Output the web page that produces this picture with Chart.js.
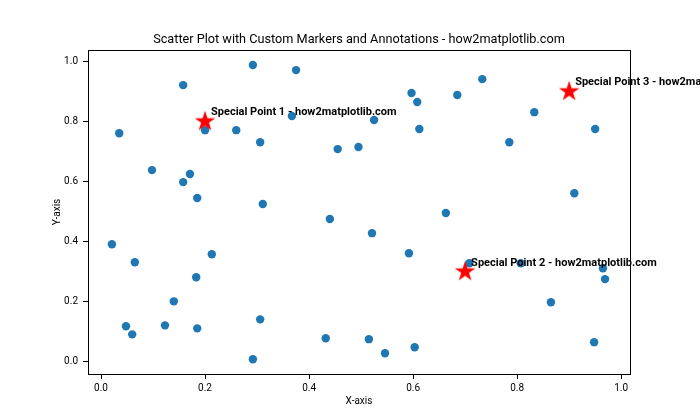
<!DOCTYPE html>
<html>
<head>
<meta charset="utf-8">
<script src="https://cdn.jsdelivr.net/npm/chart.js@4.4.0/dist/chart.umd.min.js"></script>
<style>
  html, body { margin: 0; padding: 0; background: #fff; }
  #wrap { width: 700px; height: 420px; }
</style>
</head>
<body>
<div id="wrap"><canvas id="scatterChart" width="700" height="420"></canvas></div>
<script>
// random scatter points
const xValues = [0.292, 0.375, 0.158, 0.367, 0.035, 0.200, 0.260, 0.306, 0.455, 0.495,
                 0.098, 0.171, 0.158, 0.185, 0.311, 0.733, 0.597, 0.608, 0.685, 0.833,
                 0.525, 0.612, 0.785, 0.950, 0.910, 0.440, 0.021, 0.065, 0.213, 0.183,
                 0.140, 0.048, 0.060, 0.123, 0.185, 0.306, 0.432, 0.292, 0.663, 0.521,
                 0.592, 0.708, 0.807, 0.965, 0.969, 0.865, 0.515, 0.546, 0.603, 0.948];
const yValues = [0.988, 0.971, 0.921, 0.818, 0.761, 0.771, 0.771, 0.731, 0.708, 0.715,
                 0.638, 0.625, 0.598, 0.545, 0.525, 0.941, 0.895, 0.865, 0.888, 0.831,
                 0.805, 0.775, 0.731, 0.775, 0.561, 0.475, 0.391, 0.331, 0.358, 0.281,
                 0.201, 0.118, 0.091, 0.121, 0.111, 0.141, 0.078, 0.008, 0.495, 0.428,
                 0.361, 0.328, 0.328, 0.311, 0.275, 0.198, 0.075, 0.028, 0.048, 0.065];

// special points with star markers
const specialX = [0.2, 0.7, 0.9];
const specialY = [0.8, 0.3, 0.9];
const specialLabels = ['Special Point 1 - how2matplotlib.com',
                       'Special Point 2 - how2matplotlib.com',
                       'Special Point 3 - how2matplotlib.com'];

const xTicks = [0.0, 0.2, 0.4, 0.6, 0.8, 1.0];
const yTicks = [0.0, 0.2, 0.4, 0.6, 0.8, 1.0];

const chartTitle = 'Scatter Plot with Custom Markers and Annotations - how2matplotlib.com';

const FONT = "'Liberation Sans Narrow', Roboto, sans-serif";

// filled five-pointed star used as point style
function makeStar(outer, color) {
    const inner = outer * 0.382;
    const size = Math.ceil(outer * 2 + 2);
    const c = document.createElement('canvas');
    c.width = size;
    c.height = size;
    const g = c.getContext('2d');
    const cx = size / 2, cy = size / 2;
    g.beginPath();
    for (let i = 0; i < 10; i++) {
        const r = i % 2 === 0 ? outer : inner;
        const a = -Math.PI / 2 + i * Math.PI / 5;
        const px = cx + r * Math.cos(a);
        const py = cy + r * Math.sin(a);
        if (i === 0) g.moveTo(px, py); else g.lineTo(px, py);
    }
    g.closePath();
    g.fillStyle = color;
    g.fill();
    return c;
}
const starImg = makeStar(10.8, '#ff0000');

// frame around the plot area, title centred over the axes, annotations
const framePlugin = {
    id: 'frame',
    afterDatasetsDraw(chart) {
        const { ctx, chartArea: a, scales } = chart;
        ctx.save();
        ctx.strokeStyle = '#000';
        ctx.lineWidth = 1;
        ctx.strokeRect(Math.round(a.left) + 0.5, Math.round(a.top) + 0.5,
                       Math.round(a.right - a.left), Math.round(a.bottom - a.top));

        ctx.fillStyle = '#000';
        ctx.font = "12.7px " + FONT;
        ctx.textAlign = 'center';
        ctx.textBaseline = 'middle';
        ctx.fillText(chartTitle, (a.left + a.right) / 2, a.top - 10);

        ctx.font = "bold 11px " + FONT;
        ctx.textAlign = 'left';
        ctx.textBaseline = 'alphabetic';
        specialLabels.forEach((label, i) => {
            const px = scales.x.getPixelForValue(specialX[i]);
            const py = scales.y.getPixelForValue(specialY[i]);
            ctx.fillText(label, px + 6, py - 6);
        });
        ctx.restore();
    }
};

const ctx = document.getElementById('scatterChart').getContext('2d');
new Chart(ctx, {
    type: 'scatter',
    data: {
        datasets: [
            {
                label: 'points',
                data: xValues.map((x, i) => ({ x: x, y: yValues[i] })),
                backgroundColor: '#1f77b4',
                borderWidth: 0,
                pointRadius: 4.2,
                pointHoverRadius: 4.2,
                order: 2
            },
            {
                label: 'special',
                data: specialX.map((x, i) => ({ x: x, y: specialY[i] })),
                pointStyle: starImg,
                backgroundColor: '#ff0000',
                borderWidth: 0,
                order: 1
            }
        ]
    },
    options: {
        responsive: false,
        animation: false,
        events: [],
        layout: { padding: { left: 0, right: 70, top: 50, bottom: 0 } },
        plugins: {
            legend: { display: false },
            tooltip: { enabled: false },
            title: { display: false }
        },
        scales: {
            x: {
                type: 'linear',
                min: -0.025,
                max: 1.017,
                afterBuildTicks: (scale) => { scale.ticks = xTicks.map(v => ({ value: v })); },
                afterFit: (scale) => { scale.height = 46; },
                grid: { drawOnChartArea: false, drawTicks: true, tickLength: 5, color: '#000' },
                border: { display: true, color: '#000' },
                ticks: {
                    color: '#000',
                    padding: 3,
                    maxRotation: 0,
                    font: { family: FONT, size: 10 },
                    callback: (v) => v.toFixed(1)
                },
                title: {
                    display: true,
                    text: 'X-axis',
                    color: '#000',
                    font: { family: FONT, size: 10 },
                    padding: { top: 0, bottom: 13 }
                }
            },
            y: {
                type: 'linear',
                min: -0.041,
                max: 1.038,
                afterBuildTicks: (scale) => { scale.ticks = yTicks.map(v => ({ value: v })); },
                afterFit: (scale) => { scale.width = 88; },
                grid: { drawOnChartArea: false, drawTicks: true, tickLength: 5, color: '#000' },
                border: { display: true, color: '#000' },
                ticks: {
                    color: '#000',
                    padding: 5,
                    font: { family: FONT, size: 10 },
                    callback: (v) => v.toFixed(1)
                },
                title: {
                    display: true,
                    text: 'Y-axis',
                    color: '#000',
                    font: { family: FONT, size: 10 },
                    padding: { top: 51, bottom: 0 }
                }
            }
        }
    },
    plugins: [framePlugin]
});
</script>
</body>
</html>
